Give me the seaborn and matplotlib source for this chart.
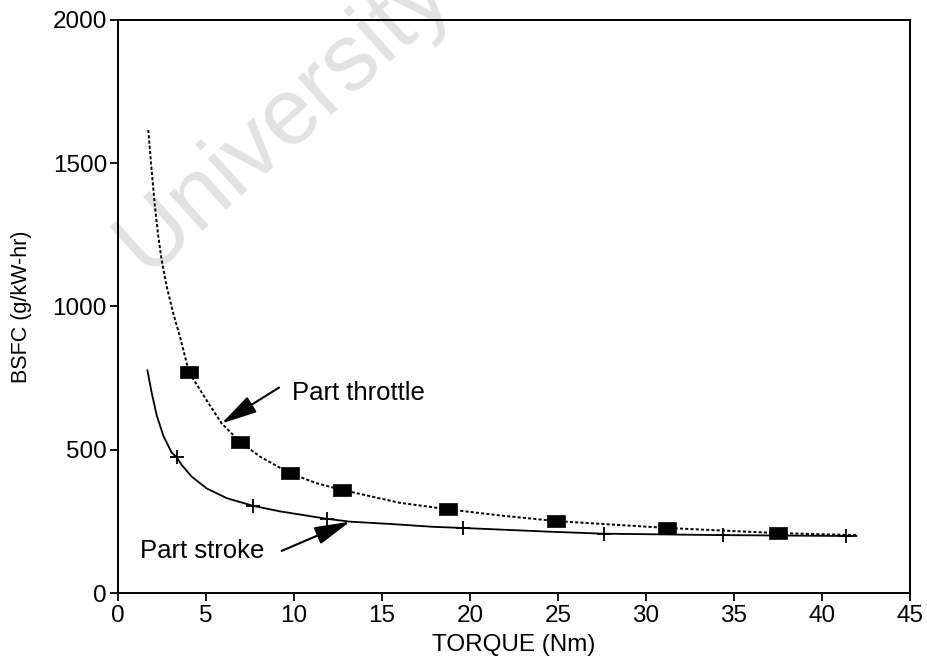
import matplotlib
matplotlib.use("Agg")
import matplotlib.pyplot as plt
import seaborn as sns
import pandas as pd

# ---- data ----
# Part throttle: measured points (squares)
thr_pts_x = [4.03, 6.93, 9.77, 12.71, 18.77, 24.9, 31.2, 37.5]
thr_pts_y = [771, 528, 418, 360, 292, 251, 227, 209]
# Part throttle: fitted curve
thr_curve_x = [1.72, 1.91, 2.10, 2.29, 2.48, 2.77, 3.14, 3.52, 3.81, 4.03, 5.0, 5.89,
               6.93, 8.07, 9.77, 11.29, 12.71, 16.0, 18.77, 21.8, 24.9, 31.2, 37.5, 41.97]
thr_curve_y = [1616, 1476, 1348, 1244, 1162, 1069, 976, 895, 825, 771, 676, 592,
               528, 476, 418, 383, 360, 315, 292, 270, 251, 227, 209, 202]

# Part stroke: measured points (plus signs)
str_pts_x = [3.33, 7.69, 11.86, 19.6, 27.6, 34.35, 41.35]
str_pts_y = [474, 304, 259, 227, 207, 202, 199]
# Part stroke: fitted curve
str_curve_x = [1.67, 1.91, 2.20, 2.58, 3.05, 3.33, 3.62, 4.19, 5.04, 6.18, 7.69, 9.2,
               11.86, 13.18, 15.45, 17.9, 19.6, 24.5, 27.6, 34.35, 41.35, 41.97]
str_curve_y = [778, 700, 620, 548, 490, 474, 447, 406, 365, 331, 304, 285,
               259, 249, 241, 231, 227, 214, 207, 202, 199, 199]

x_ticks = [0, 5, 10, 15, 20, 25, 30, 35, 40, 45]
y_ticks = [0, 500, 1000, 1500, 2000]

sns.set_style("ticks")
plt.rcParams['font.family'] = ['Liberation Sans', 'DejaVu Sans']
plt.rcParams['text.color'] = 'black'
plt.rcParams['axes.labelcolor'] = 'black'
plt.rcParams['xtick.color'] = 'black'
plt.rcParams['ytick.color'] = 'black'

fig = plt.figure(figsize=(9.28, 6.62), dpi=100)
ax = fig.add_axes([118/928, 1-593/662, (910-118)/928, (593-20)/662])
ax.patch.set_alpha(0)

# watermark
fig.text(284/928, 1-118/662, "University", fontsize=68, color="#e2e2e2",
         rotation=42, rotation_mode="anchor", ha="center", va="center",
         zorder=-1)

thr_curve = pd.DataFrame({"x": thr_curve_x, "y": thr_curve_y})
str_curve = pd.DataFrame({"x": str_curve_x, "y": str_curve_y})
thr_pts = pd.DataFrame({"x": thr_pts_x, "y": thr_pts_y})
str_pts = pd.DataFrame({"x": str_pts_x, "y": str_pts_y})

sns.lineplot(data=thr_curve, x="x", y="y", ax=ax, color="black", lw=1.4,
             linestyle=(0, (1.6, 1.1)), sort=False)
sns.lineplot(data=str_curve, x="x", y="y", ax=ax, color="black", lw=1.3,
             sort=False)

rect = [(-1, -0.72), (1, -0.72), (1, 0.72), (-1, 0.72), (-1, -0.72)]
sns.scatterplot(data=thr_pts, x="x", y="y", ax=ax, marker=rect, s=150,
                color="black", edgecolor="black", linewidth=0.5, zorder=5)
sns.scatterplot(data=str_pts, x="x", y="y", ax=ax, marker="+", s=110,
                color="black", linewidth=1.3, zorder=5)

arrow = dict(arrowstyle="-|>,head_length=1.1,head_width=0.28", color="black",
             lw=1.5, shrinkA=0, shrinkB=0, mutation_scale=20)
ax.annotate("", xy=(5.89, 592), xytext=(9.15, 717), arrowprops=arrow)
ax.text(9.9, 698, "Part throttle", fontsize=18.5, ha="left", va="center")
ax.annotate("", xy=(13.18, 249), xytext=(9.3, 147), arrowprops=arrow)
ax.text(1.25, 147, "Part stroke", fontsize=18.5, ha="left", va="center")

ax.set_xlim(0, 45)
ax.set_ylim(0, 2000)
ax.set_xticks(x_ticks)
ax.set_yticks(y_ticks)
ax.tick_params(axis="both", direction="out", length=6, width=1.3,
               labelsize=17.5, colors="black")
ax.tick_params(axis="y", pad=2)
ax.tick_params(axis="x", pad=3)
for sp in ax.spines.values():
    sp.set_visible(True)
    sp.set_linewidth(1.4)
    sp.set_color("black")

ax.set_xlabel("TORQUE (Nm)", fontsize=17.5)
ax.set_ylabel("BSFC (g/kW-hr)", fontsize=15.5)
ax.xaxis.set_label_coords(0.5, -0.072)
ax.yaxis.set_label_coords(-0.108, 0.5)

fig.savefig("out.png", dpi=100)
